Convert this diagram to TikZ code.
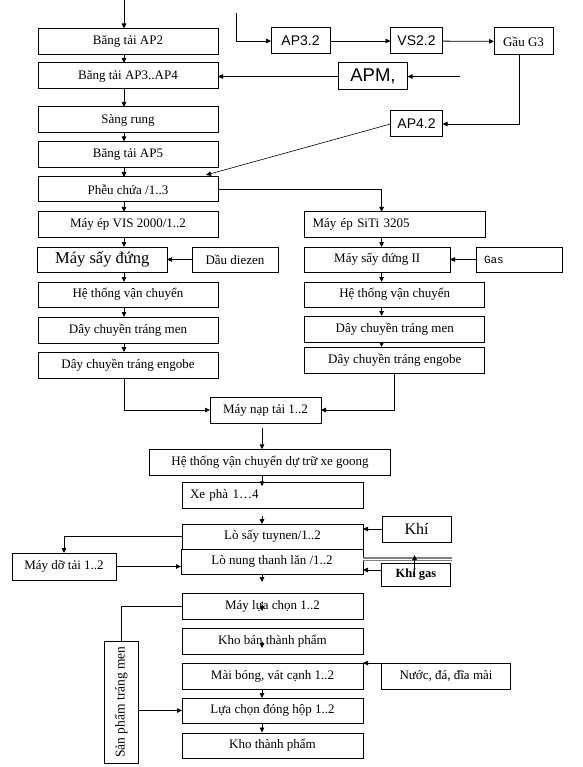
\documentclass[tikz,border=0pt]{standalone}
\usepackage{fontspec}
\setmainfont{Liberation Serif}
\newfontfamily\apfont{Liberation Sans}
\newfontfamily\gasfont{Liberation Mono}
\usetikzlibrary{arrows.meta}

\begin{document}
\begin{tikzpicture}[x=1pt, y=-1pt, font=\fontsize{13}{15}\selectfont]
	\tikzstyle{box}=[draw, line width=1pt, inner sep=2pt, outer sep=0pt, minimum height=26pt]
	\tikzstyle{col}=[box, minimum width=180pt]
	\tikzstyle{ap}=[box, font=\apfont\fontsize{14}{16}\selectfont]
	\tikzstyle{arr}=[line width=0.8pt, -{Triangle[length=5pt,width=4.5pt]}]
	\tikzstyle{line}=[line width=0.8pt]

	\useasboundingbox (0,0) rectangle (582,767);

	% left line
	\node[col] (ap2) at (128,41.5) {Băng tải AP2};
	\node[col] (ap34) at (128,76) {Băng tải AP3..AP4};
	\node[col] (sang) at (128,120) {Sàng rung};
	\node[col] (ap5) at (128,154.5) {Băng tải AP5};
	\node[col, minimum height=25pt] (pheu) at (128,189.5) {Phễu chứa /1..3};
	\node[col, minimum height=25pt] (vis) at (128,224.5) {Máy ép VIS 2000/1..2};
	\node[box, minimum width=129.5pt, minimum height=25pt, font=\fontsize{16.5}{18}\selectfont] (saydung) at (102.3,259.5) {Máy sấy đứng};
	\node[box, minimum width=86pt, minimum height=25pt] (dau) at (235,259.5) {Dầu diezen};
	\node[col, minimum height=25pt] (ht1) at (128,294.5) {Hệ thống vận chuyển};
	\node[col] (men1) at (128,330) {Dây chuyền tráng men};
	\node[col] (engobe1) at (128,365) {Dây chuyền tráng engobe};

	% right line
	\node[col, minimum height=25pt, text width=164.5pt, inner xsep=8pt, align=left] (siti) at (394.75,224.5) {Máy ép SiTi 3205};
	\node[box, minimum width=145.5pt, minimum height=25pt] (say2) at (377.25,259.5) {Máy sấy đứng II};
	\node[box, minimum width=86pt, minimum height=25pt, text width=70pt, inner xsep=8pt, align=left, font=\gasfont\fontsize{11}{13}\selectfont] (gas) at (519,259.5) {Gas};
	\node[col, minimum height=25pt] (ht2) at (394.75,294.5) {Hệ thống vận chuyển};
	\node[col] (men2) at (394.75,329) {Dây chuyền tráng men};
	\node[col] (engobe2) at (394.75,360) {Dây chuyền tráng engobe};

	% top right
	\node[ap, minimum width=59pt] (ap32) at (300.5,41) {AP3.2};
	\node[ap, minimum width=52pt] (vs22) at (416.5,41) {VS2.2};
	\node[box, minimum width=59pt, minimum height=27pt] (gau) at (523.5,41.5) {Gầu G3};
	\node[box, minimum width=69pt, minimum height=27pt, font=\apfont\fontsize{18.5}{20}\selectfont] (apm) at (373,76.5) {APM,};
	\node[ap, minimum width=52pt] (ap42) at (416.5,124) {AP4.2};

	% kiln part
	\node[box, minimum width=111pt] (nap) at (265.5,410) {Máy nạp tải 1..2};
	\node[box, minimum width=240.5pt, minimum height=26.5pt] (htdutru) at (270,462.5) {Hệ thống vận chuyển dự trữ xe goong};
	\node[box, minimum width=181pt, minimum height=26.5pt, text width=165pt, inner xsep=8pt, align=left] (xepha) at (272.5,495.5) {Xe phà 1…4};
	\node[box, minimum width=181pt, minimum height=25pt] (losay) at (272.5,536.5) {Lò sấy tuynen/1..2};
	\node[box, minimum width=69pt, font=\fontsize{16}{18}\selectfont] (khi) at (416.5,529) {Khí};
	\node[box, minimum width=182pt, minimum height=25pt] (lonung) at (272,561.5) {Lò nung thanh lăn /1..2};
	\node[box, minimum width=69pt, minimum height=23pt, font=\bfseries\fontsize{12.5}{14}\selectfont] (khigas) at (416,574.5) {Khí gas};
	\node[box, minimum width=104pt, minimum height=27pt] (maydo) at (64,566.5) {Máy dỡ tải 1..2};

	% finishing part
	\node[box, minimum width=181pt] (luachon) at (272.5,606) {Máy lựa chọn 1..2};
	\node[box, minimum width=181pt] (khoban) at (272.5,641) {Kho bán thành phẩm};
	\node[box, minimum width=181pt] (maibong) at (272.5,676) {Mài bóng, vát cạnh 1..2};
	\node[box, minimum width=129pt] (nuoc) at (446,676) {Nước, đá, đĩa mài};
	\node[box, minimum width=181pt, minimum height=25pt] (donghop) at (272.5,710.5) {Lựa chọn đóng hộp 1..2};
	\node[box, minimum width=181pt, minimum height=25pt] (khotp) at (272.5,745.5) {Kho thành phẩm};
	\node[box, rotate=90, minimum width=122pt, minimum height=34.5pt, inner sep=1pt, font=\fontsize{13.5}{14}\selectfont] (sanpham) at (121.25,702) {Sản phẩm tráng men};

	% free ends
	\coordinate (in1) at (124,0);
	\coordinate (in2) at (236.4,13);
	\coordinate (in3) at (460.3,76.5);
	\coordinate (rcol) at (381.6,0);
	\coordinate (mid) at (262,0);
	\coordinate (gx) at (519.7,0);

	% left line connectors
	\draw[arr] (in1) -- (in1 |- ap2.north);
	\foreach \a/\b in {ap2/ap34, ap34/sang, sang/ap5, ap5/pheu, pheu/vis, vis/saydung, saydung/ht1, ht1/men1, men1/engobe1}
		\draw[arr] (\a.south -| in1) -- (\b.north -| in1);
	\draw[arr] (dau) -- (saydung);

	% right line connectors
	\draw[arr] (pheu.east) -| (siti.north -| rcol);
	\foreach \a/\b in {siti/say2, say2/ht2, ht2/men2, men2/engobe2}
		\draw[arr] (\a.south -| rcol) -- (\b.north -| rcol);
	\draw[arr] (gas) -- (say2);

	% top right connectors
	\draw[arr] (in2) |- (ap32.west);
	\draw[arr] (ap32) -- (vs22);
	\draw[arr] (vs22) -- (gau);
	\draw[arr] (in3) -- (apm.east);
	\draw[arr] (apm.west) -- (apm.west -| ap34.east);
	\draw[arr] (gau.south -| gx) |- (ap42.east);
	\draw[arr, line width=0.6pt] (ap42.west) -- ([xshift=78pt,yshift=2pt]pheu.north);

	% merging into the kiln
	\draw[arr] (engobe1.south -| in1) |- (nap.west);
	\draw[arr] (engobe2.south) |- (nap.east);
	\draw[arr] ([yshift=-5pt]nap.south -| mid) -- (htdutru.north -| mid);
	\draw[arr] (htdutru.south -| mid) -- ([yshift=-4pt]xepha.north -| mid);
	\draw[arr] ([yshift=-7pt]xepha.south -| mid) -- (losay.north -| mid);
	\draw[arr] (khi.west) -- (khi.west -| losay.east);
	\draw[arr] (losay.west) -| (maydo.north);
	\draw[arr] (maydo.east) -- (maydo.east -| lonung.west);
	\draw[arr] ([yshift=4.5pt]khigas.west) -- ([yshift=4.5pt]khigas.west -| lonung.east);
	\draw[gray, double, double distance=1pt, line width=1.2pt] ([yshift=2.5pt]lonung.east) -- ++(89,0);
	\draw[arr] ([xshift=-1.5pt,yshift=-1.5pt]khigas.center) -- ++(0,-21);
	\draw[arr] (lonung.south -| mid) -- ++(0,8);

	% finishing connectors
	\draw[arr] ([yshift=1pt]luachon.center -| mid) -- ++(0,6);
	\draw[arr] ([yshift=-1pt]khoban.center -| mid) -- ++(0,6);
	\draw[arr] (maibong.south -| mid) -- ++(0,9);
	\draw[arr] (donghop.south -| mid) -- ++(0,9.5);
	\draw[arr] (nuoc.north west) -- (nuoc.north west -| maibong.east);
	\draw[line] (luachon.west) -| (sanpham.east);
	\draw[arr] (sanpham.south |- donghop.west) -- (donghop.west);
\end{tikzpicture}
\end{document}
